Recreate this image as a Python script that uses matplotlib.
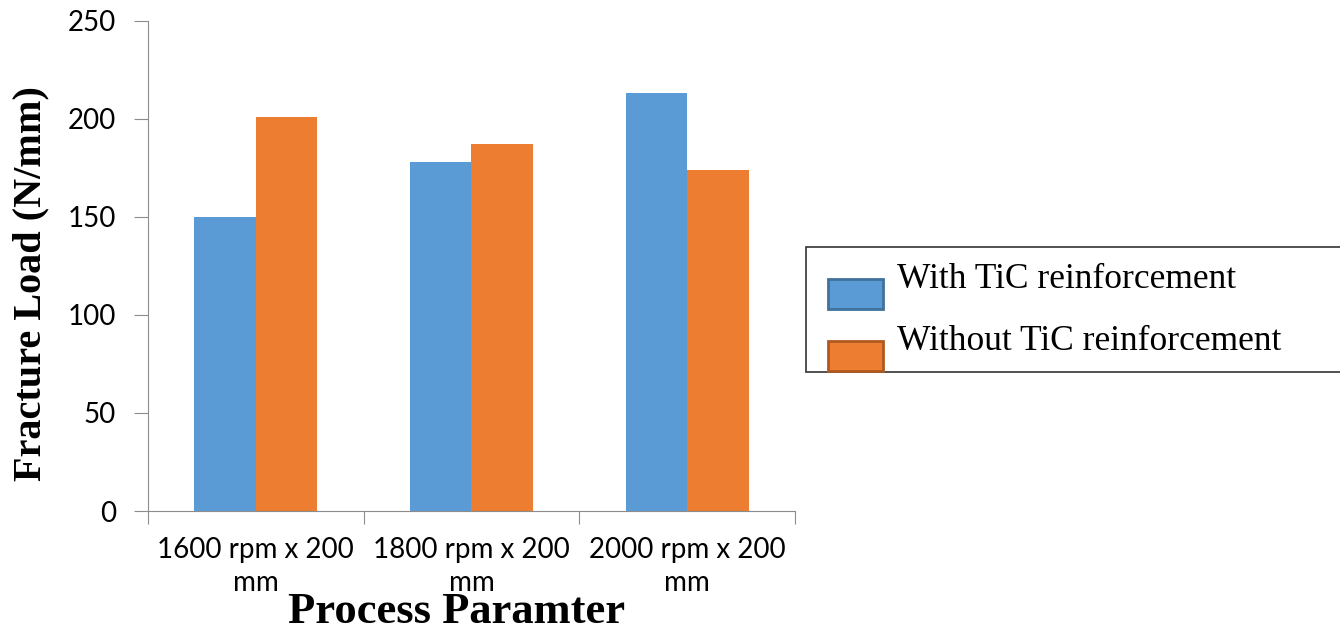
import numpy as np
import matplotlib.pyplot as plt
from matplotlib.patches import Patch, Rectangle
from matplotlib.legend_handler import HandlerPatch

# fracture load for each process parameter
categories = ["1600 rpm x 200\nmm", "1800 rpm x 200\nmm", "2000 rpm x 200\nmm"]
with_tic = [150, 178, 213]
without_tic = [201, 187, 174]
series_names = ["With TiC reinforcement", "Without TiC reinforcement"]

blue = "#5B9BD5"
orange = "#ED7D31"
axis_grey = "#8C8C8C"

fig = plt.figure(figsize=(13.4, 6.34), dpi=100)
ax = fig.add_axes([0.1104, 0.194, 0.4829, 0.773])

x = np.arange(len(categories))
width = 0.285
ax.bar(x - width / 2, with_tic, width, color=blue)
ax.bar(x + width / 2, without_tic, width, color=orange)

ax.set_xlim(-0.5, len(categories) - 0.5)
ax.set_ylim(0, 250)
ax.set_yticks(np.arange(0, 251, 50))

# category ticks sit on group boundaries, labels centred under groups
ax.set_xticks(np.arange(-0.5, len(categories), 1.0))
ax.set_xticklabels([])
ax.set_xticks(x, minor=True)
ax.set_xticklabels(categories, minor=True, fontsize=20, family="Lato",
                   linespacing=1.32)
ax.tick_params(axis="x", which="minor", length=0, pad=19)
ax.tick_params(axis="x", which="major", length=9, color=axis_grey)
ax.tick_params(axis="y", length=10, color=axis_grey, labelsize=20, pad=13)
for lbl in ax.get_yticklabels():
    lbl.set_family("Lato")

for side in ("top", "right"):
    ax.spines[side].set_visible(False)
for side in ("left", "bottom"):
    ax.spines[side].set_color(axis_grey)

ax.set_ylabel("Fracture Load (N/mm)", family="Liberation Serif",
              fontweight="bold", fontsize=29)
ax.yaxis.set_label_coords(-0.152, 0.465)
ax.set_xlabel("Process Paramter", family="Liberation Serif",
              fontweight="bold", fontsize=32)
ax.xaxis.set_label_coords(0.4776, -0.166)


# legend swatches sit a little lower and further right than the label row
def offset_patch(legend, orig_handle, xdescent, ydescent, width, height, fontsize):
    return Rectangle((-xdescent + 6, -ydescent - 13), width - 6, height)


handles = [Patch(facecolor=blue, edgecolor="#41719C", linewidth=2),
           Patch(facecolor=orange, edgecolor="#AE5A21", linewidth=2)]
leg = fig.legend(handles, series_names, loc="upper left",
                 bbox_to_anchor=(0.6015, 0.61, 0.45, 0.0), mode="expand",
                 prop={"family": "Liberation Serif", "size": 25.5},
                 frameon=True, fancybox=False, edgecolor="black",
                 handlelength=1.78, handleheight=0.93, handletextpad=0.4,
                 labelspacing=0.76, borderpad=0.38, borderaxespad=0,
                 handler_map={Patch: HandlerPatch(patch_func=offset_patch)})
leg.get_frame().set_linewidth(1.2)

fig.savefig("out.png", dpi=100)
